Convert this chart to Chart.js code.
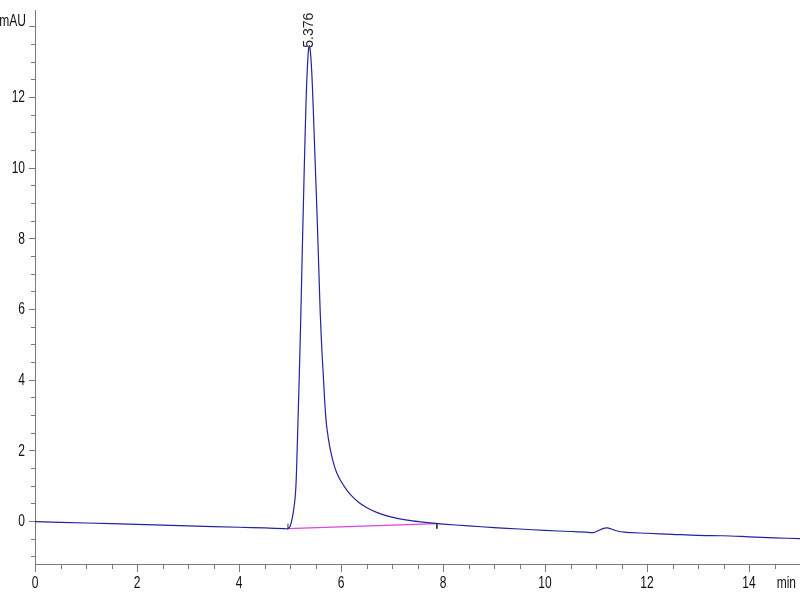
<!DOCTYPE html>
<html>
<head>
<meta charset="utf-8">
<script src="https://cdn.jsdelivr.net/npm/chart.js@4.4.0/dist/chart.umd.min.js"></script>
<style>
  html, body { margin: 0; padding: 0; background: #fff; }
  #wrap { width: 800px; height: 600px; }
</style>
</head>
<body>
<div id="wrap"><canvas id="chromChart" width="800" height="600"></canvas></div>
<script>
// Chromatogram data (min / mAU)
const times = [0, 1, 2, 3, 4, 4.5, 4.9, 4.96, 5.00, 5.04, 5.07, 5.10, 5.12, 5.14, 5.16, 5.18,
    5.20, 5.22, 5.24, 5.26, 5.28, 5.30, 5.32, 5.34, 5.36, 5.376, 5.39, 5.41, 5.43, 5.45,
    5.47, 5.49, 5.51, 5.53, 5.55, 5.57, 5.59, 5.61, 5.63, 5.65, 5.68, 5.71, 5.75, 5.80,
    5.86, 5.92, 6.00, 6.10, 6.20, 6.35, 6.50, 6.70, 6.90, 7.10, 7.40, 7.70, 8.00, 8.50,
    9.00, 9.50, 10.00, 10.50, 10.80, 10.95, 11.05, 11.15, 11.22, 11.30, 11.40, 11.55,
    12.0, 12.5, 13.0, 13.5, 14.0, 14.5, 15.0];
const signal = [-0.02, -0.06, -0.10, -0.14, -0.18, -0.20, -0.22, -0.22, -0.16, 0.05, 0.3, 0.65, 1.1, 2.0, 3.0, 4.0,
    5.1, 6.3, 7.6, 8.8, 10.0, 11.1, 12.1, 12.8, 13.3, 13.45, 13.4, 13.1, 12.6, 11.9,
    11.1, 10.3, 9.5, 8.7, 7.8, 6.9, 6.0, 5.3, 4.7, 4.2, 3.4, 2.8, 2.35, 1.95,
    1.6, 1.35, 1.12, 0.9, 0.72, 0.52, 0.38, 0.24, 0.14, 0.07, 0.0, -0.05, -0.09, -0.14,
    -0.19, -0.23, -0.27, -0.30, -0.32, -0.33, -0.27, -0.21, -0.20, -0.23, -0.28, -0.32,
    -0.35, -0.38, -0.41, -0.42, -0.45, -0.48, -0.50];

// integration baseline of the peak
const peakStart = [4.96, -0.22];
const peakEnd = [7.88, -0.08];
const peakTime = 5.376;
const peakHeight = 13.45;

const xTickValues = [0, 2, 4, 6, 8, 10, 12, 14];
const yTickValues = [0, 2, 4, 6, 8, 10, 12];
const yUnit = 'mAU';
const xUnit = 'min';

const axisColor = '#7a7a7a';
const textColor = '#111';

const tracePoints = times.map((t, i) => ({ x: t, y: signal[i] }));

// narrow text like the original software (no condensed font installed)
function narrowText(ctx, text, x, y, align) {
    ctx.save();
    ctx.translate(x, y);
    ctx.scale(0.75, 1);
    ctx.textAlign = align;
    ctx.fillText(text, 0, 0);
    ctx.restore();
}

// axis ticks, tick labels, peak label and units
const decorPlugin = {
    id: 'decor',
    afterDraw(chart) {
        const ctx = chart.ctx;
        const xs = chart.scales.x;
        const ys = chart.scales.y;
        ctx.save();
        ctx.strokeStyle = axisColor;
        ctx.lineWidth = 1;
        ctx.beginPath();
        for (let v = 0; v <= 15.001; v += 0.5) {
            const px = Math.round(xs.getPixelForValue(v)) + 0.5;
            const len = (v % 2 === 0) ? 8 : 5;
            ctx.moveTo(px, xs.top);
            ctx.lineTo(px, xs.top + len);
        }
        for (let v = -1; v <= 14.001; v += 0.5) {
            const py = Math.round(ys.getPixelForValue(v)) + 0.5;
            const len = (v % 2 === 0) ? 6 : 4;
            ctx.moveTo(ys.right, py);
            ctx.lineTo(ys.right - len, py);
        }
        ctx.stroke();

        ctx.fillStyle = textColor;
        ctx.font = "16px 'Liberation Sans', Arial, sans-serif";
        ctx.textBaseline = 'middle';
        xTickValues.forEach(v => narrowText(ctx, String(v), xs.getPixelForValue(v), 584, 'center'));
        yTickValues.forEach(v => narrowText(ctx, String(v), 25, ys.getPixelForValue(v) + 1, 'right'));
        narrowText(ctx, yUnit, 26, ys.getPixelForValue(14) - 5, 'right');
        narrowText(ctx, xUnit, 796, 584, 'right');

        // peak retention time label
        ctx.fillStyle = '#222';
        ctx.font = "14px 'Liberation Sans', Arial, sans-serif";
        ctx.translate(xs.getPixelForValue(peakTime), ys.getPixelForValue(peakHeight) + 2);
        ctx.rotate(-Math.PI / 2);
        ctx.textAlign = 'left';
        ctx.textBaseline = 'middle';
        ctx.fillText(peakTime.toFixed(3), 0, 0);
        ctx.restore();
    }
};

const chromConfig = {
    type: 'line',
    data: {
        datasets: [{
            data: tracePoints,
            borderColor: '#23239c',
            borderWidth: 1.2,
            pointRadius: 0,
            tension: 0.3,
            fill: false
        }, {
            data: [{ x: peakStart[0], y: peakStart[1] }, { x: peakEnd[0], y: peakEnd[1] }],
            borderColor: '#dd44dd',
            borderWidth: 1.2,
            pointRadius: 0
        }, {
            data: [{ x: peakStart[0], y: peakStart[1] }, { x: peakStart[0], y: peakStart[1] + 0.14 }],
            borderColor: '#333',
            borderWidth: 1,
            pointRadius: 0
        }, {
            data: [{ x: peakEnd[0], y: peakEnd[1] }, { x: peakEnd[0], y: peakEnd[1] - 0.14 }],
            borderColor: '#333',
            borderWidth: 1,
            pointRadius: 0
        }]
    },
    options: {
        responsive: false,
        animation: false,
        layout: { padding: { top: 10, right: 0, left: 0, bottom: 0 } },
        plugins: {
            legend: { display: false },
            tooltip: { enabled: false }
        },
        scales: {
            x: {
                type: 'linear',
                min: 0,
                max: 15,
                grid: { display: false },
                border: { display: true, color: axisColor },
                ticks: { display: false },
                afterFit: (s) => { s.height = 36; }
            },
            y: {
                min: -1.22,
                max: 14.46,
                grid: { display: false },
                border: { display: true, color: axisColor },
                ticks: { display: false },
                afterFit: (s) => { s.width = 35; }
            }
        }
    },
    plugins: [decorPlugin]
};

const chromChart = new Chart(document.getElementById('chromChart'), chromConfig);
</script>
</body>
</html>
